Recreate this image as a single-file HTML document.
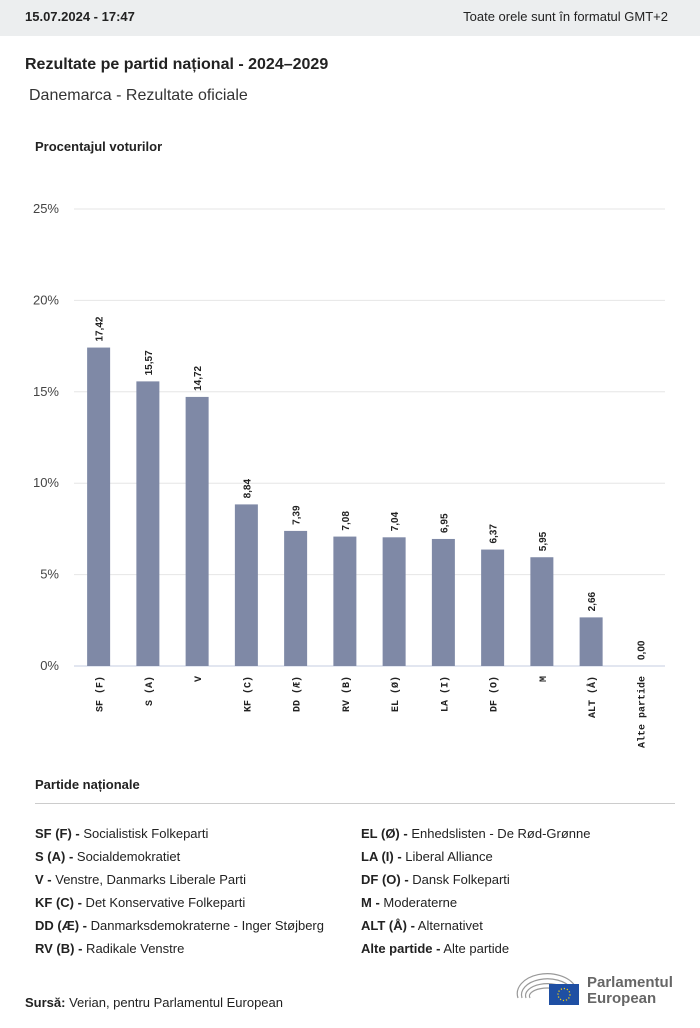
<!DOCTYPE html>
<html><head><meta charset="utf-8">
<style>
body{margin:0;width:700px;height:1028px;background:#fff;font-family:"Liberation Sans",sans-serif;color:#222;position:relative;overflow:hidden}
.top{position:absolute;left:0;top:0;width:700px;height:36px;background:#eceeef}
.abs{position:absolute;white-space:nowrap}
.leg{font-size:13px;color:#222}
.leg b{font-weight:bold}
</style></head><body>
<div class="top">
<div class="abs" style="left:25px;top:9px;font-size:13px;font-weight:bold">15.07.2024 - 17:47</div>
<div class="abs" style="right:32px;top:9px;font-size:13px">Toate orele sunt în formatul GMT+2</div>
</div>
<div class="abs" style="left:25px;top:56px;font-size:16px;font-weight:bold">Rezultate pe partid național - 2024–2029</div>
<div class="abs" style="left:29px;top:87px;font-size:16px;color:#333">Danemarca - Rezultate oficiale</div>
<div class="abs" style="left:35px;top:139px;font-size:13px;font-weight:bold">Procentajul voturilor</div>
<svg id="chart" class="abs" style="left:0;top:0" width="700" height="770"></svg>
<div class="abs" style="left:35px;top:777px;font-size:13px;font-weight:bold">Partide naționale</div>
<div class="abs" style="left:35px;top:803px;width:640px;height:1px;background:#ccc"></div>
<div class="abs leg" style="left:35px;top:822px;line-height:23px">
<div><b>SF (F) -</b> Socialistisk Folkeparti</div>
<div><b>S (A) -</b> Socialdemokratiet</div>
<div><b>V -</b> Venstre, Danmarks Liberale Parti</div>
<div><b>KF (C) -</b> Det Konservative Folkeparti</div>
<div><b>DD (Æ) -</b> Danmarksdemokraterne - Inger Støjberg</div>
<div><b>RV (B) -</b> Radikale Venstre</div>
</div>
<div class="abs leg" style="left:361px;top:822px;line-height:23px">
<div><b>EL (Ø) -</b> Enhedslisten - De Rød-Grønne</div>
<div><b>LA (I) -</b> Liberal Alliance</div>
<div><b>DF (O) -</b> Dansk Folkeparti</div>
<div><b>M -</b> Moderaterne</div>
<div><b>ALT (Å) -</b> Alternativet</div>
<div><b>Alte partide -</b> Alte partide</div>
</div>
<div class="abs" style="left:25px;top:995px;font-size:13px"><b>Sursă:</b> Verian, pentru Parlamentul European</div>
<svg class="abs" style="left:515px;top:968px" width="70" height="40" viewBox="0 0 70 40">
<g fill="none" stroke="#999" stroke-width="1.2">
<path d="M3 30 A30 20 0 0 1 60 18"/><path d="M7 30 A26 16 0 0 1 56 20"/><path d="M11 30 A22 12 0 0 1 52 22"/><path d="M15 30 A18 8 0 0 1 48 24"/>
</g>
<rect x="34" y="16" width="30" height="21" fill="#1f4fa3"/>
<circle cx="49" cy="26.5" r="6" fill="none" stroke="#f5d00f" stroke-width="1.3" stroke-dasharray="1.2 1.9"/>
</svg>
<div class="abs" style="left:587px;top:975px;font-size:15px;font-weight:bold;color:#666;line-height:16px">Parlamentul<br>European</div>
<script>
const categories=["SF (F)","S (A)","V","KF (C)","DD (Æ)","RV (B)","EL (Ø)","LA (I)","DF (O)","M","ALT (Å)","Alte partide"];
const values=[17.42,15.57,14.72,8.84,7.39,7.08,7.04,6.95,6.37,5.95,2.66,0.00];
const valueLabels=["17,42","15,57","14,72","8,84","7,39","7,08","7,04","6,95","6,37","5,95","2,66","0,00"];
const ticks=[0,5,10,15,20,25];
const tickLabels=["0%","5%","10%","15%","20%","25%"];
const svg=document.getElementById('chart');
const NS='http://www.w3.org/2000/svg';
const x0=74,x1=665,y0=666,y1=209,maxV=25;
const band=(x1-x0)/categories.length;
const yS=v=>y0-(v/maxV)*(y0-y1);
const xC=i=>x0+band*(i+0.5);
function mk(t,a){const e=document.createElementNS(NS,t);for(const k in a)e.setAttribute(k,a[k]);svg.appendChild(e);return e;}
ticks.forEach((t,i)=>{
 const g=mk('line',{x1:x0,x2:x1,y1:yS(t),y2:yS(t),stroke:t===0?'#c5cde0':'#e6e6e6','stroke-width':1});
 
 
 const l=mk('text',{x:59,y:yS(t)+4,'text-anchor':'end','font-size':13,fill:'#444','font-family':'Liberation Sans,sans-serif'});
 l.textContent=tickLabels[i];
 
 
});
categories.forEach((c,i)=>{
 const cx=xC(i),w=23,top=yS(values[i]);
 const r=mk('rect',{x:cx-w/2,y:top,width:w,height:y0-top,fill:'#7f89a6'});
 
 
 const v=mk('text',{transform:`translate(${cx+4},${top-6}) rotate(-90)`,'font-size':10,'font-weight':'bold',fill:'#222','font-family':'Liberation Sans,sans-serif'});
 v.textContent=valueLabels[i];
 
 
 const t=mk('text',{transform:`translate(${cx+4},${676}) rotate(-90)`,'text-anchor':'end','font-size':10,'font-weight':'bold',fill:'#222','font-family':'Liberation Mono,monospace'});
 t.textContent=c;
 
 
});
</script>
</body></html>
